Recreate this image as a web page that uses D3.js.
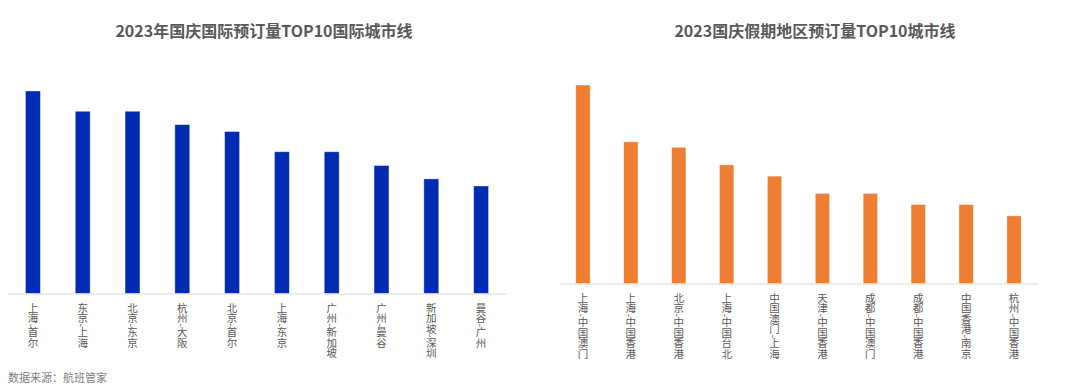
<!DOCTYPE html>
<html>
<head>
<meta charset="utf-8">
<script src="https://cdn.jsdelivr.net/npm/d3@7"></script>
<style>
  body { margin: 0; background: #fff; }
  svg { display: block; font-family: "Noto Sans CJK SC", "Noto Sans", sans-serif; }
</style>
</head>
<body>
<svg id="chart" width="1080" height="388"></svg>
<script>
// left panel: international routes
var intlTitle = "2023年国庆国际预订量TOP10国际城市线";
var intlCities = ["上海-首尔", "东京-上海", "北京-东京", "杭州-大阪", "北京-首尔", "上海-东京", "广州-新加坡", "广州-曼谷", "新加坡-深圳", "曼谷-广州"];
var intlValues = [100, 90, 90, 83.4, 80, 70, 70, 63.2, 56.6, 53.1];

// right panel: regional routes
var regTitle = "2023国庆假期地区预订量TOP10城市线";
var regCities = ["上海-中国澳门", "上海-中国香港", "北京-中国香港", "上海-中国台北", "中国澳门-上海", "天津-中国香港", "成都-中国澳门", "成都-中国香港", "中国香港-南京", "杭州-中国香港"];
var regValues = [100, 71.4, 68.6, 59.8, 54.1, 45.4, 45.4, 39.8, 39.8, 34.1];

var source = "数据来源：航班管家";

var svg = d3.select("#chart");

function drawPanel(opt) {
    var g = svg.append("g");

    var x = d3.scaleBand()
        .domain(opt.cities)
        .range([opt.left, opt.right])
        .paddingInner(0.7)
        .paddingOuter(0.35);

    var y = d3.scaleLinear()
        .domain([0, 100])
        .range([opt.base, opt.top]);

    //Title
    g.append("text")
        .attr("x", opt.titleX)
        .attr("y", 37)
        .attr("text-anchor", "middle")
        .attr("font-size", 16)
        .attr("font-weight", "bold")
        .attr("fill", "#595959")
        .text(opt.title);

    //Bars
    g.selectAll("rect")
        .data(opt.values)
        .enter().append("rect")
        .attr("x", function(d, i) { return x(opt.cities[i]); })
        .attr("y", function(d) { return y(d); })
        .attr("width", x.bandwidth())
        .attr("height", function(d) { return opt.base - y(d); })
        .attr("fill", opt.color)
        .attr("stroke", "#ffffff")
        .attr("stroke-opacity", 0.5)
        .attr("stroke-width", 0.8);

    //Axis
    var axis = g.append("g")
        .attr("transform", "translate(0," + opt.base + ")")
        .call(d3.axisBottom(x).tickSize(0).tickPadding(0));
    axis.select(".domain").attr("stroke", "#d9d9d9").attr("stroke-width", 1);
    axis.selectAll(".tick text")
        .attr("y", 9)
        .attr("dy", 0)
        .attr("style", "writing-mode: vertical-rl;")
        .attr("text-anchor", "start")
        .attr("font-size", 10.5)
        .attr("font-family", "'Noto Sans CJK SC', sans-serif")
        .attr("fill", "#595959");
}

drawPanel({
    title: intlTitle, titleX: 264, cities: intlCities, values: intlValues,
    left: 8, right: 506, base: 293.5, top: 91, color: "#002bb2"
});

drawPanel({
    title: regTitle, titleX: 815, cities: regCities, values: regValues,
    left: 559, right: 1038, base: 283.5, top: 85, color: "#ee7e32"
});

svg.append("text")
    .attr("x", 8)
    .attr("y", 382)
    .attr("font-size", 11)
    .attr("fill", "#7f7f7f")
    .text(source);
</script>
</body>
</html>
